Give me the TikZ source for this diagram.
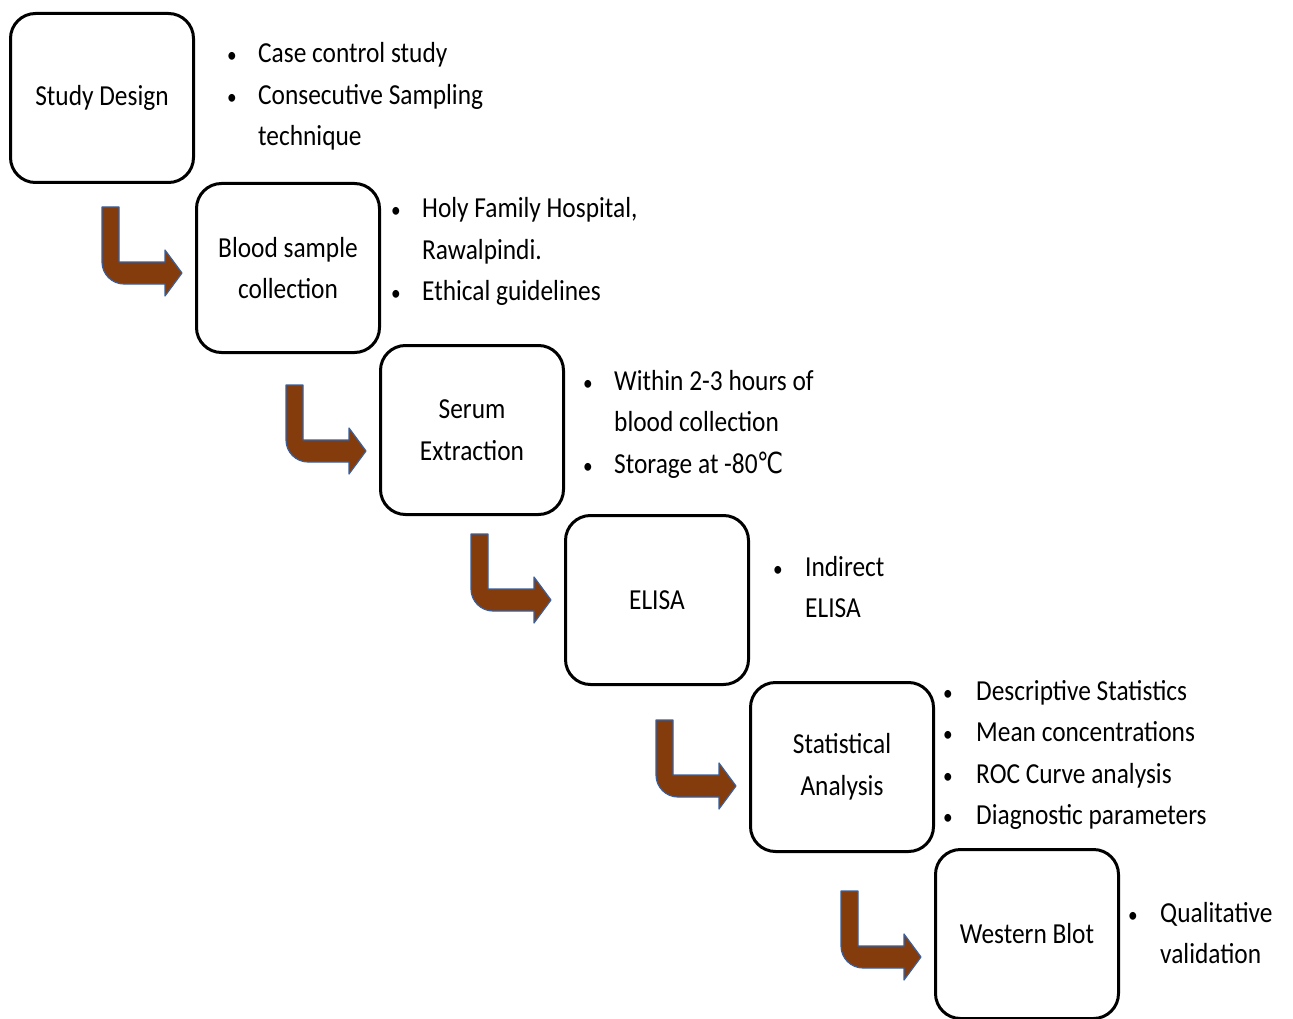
\documentclass[tikz,border=0pt]{standalone}
\usepackage{fontspec}
\setmainfont{Carlito}[FakeStretch=0.875]
\newfontfamily\degreefont{DejaVu Sans}[FakeStretch=0.8]
\usetikzlibrary{calc}

\definecolor{arrowbrown}{RGB}{132,60,12}
\definecolor{arrowline}{RGB}{58,95,154}
\newcommand{\flowsize}{\fontsize{29}{41.5}\selectfont}
\newcommand{\listdot}{{\fontsize{22}{41.5}\selectfont\textbullet}}

\tikzset{
  stepbox/.style={draw, line width=3pt, rounded corners=25pt, minimum width=183pt,
    minimum height=169pt, align=center, inner sep=0pt, font=\flowsize},
  bullets/.style={anchor=base west, inner sep=0pt, font=\flowsize},
  bendarrow/.pic={
    \filldraw[fill=arrowbrown, draw=arrowline, line width=1.2pt, line join=round]
      (-80,-66) -- (-63,-66) -- (-63,-11) -- (-17,-11) -- (-17,-23) -- (0,0)
      -- (-17,23) -- (-17,11) -- (-58,11) arc (90:180:22) -- cycle;
  }
}

\begin{document}
\begin{tikzpicture}[x=1pt, y=-1pt]
              \useasboundingbox (0,0) rectangle (1293,1019);

              \node[stepbox] (design) at (102,98)  {Study Design};
              \node[stepbox] (blood)  at (288,268) {Blood sample\\collection};
              \node[stepbox] (serum)  at (472,430) {Serum\\Extraction};
              \node[stepbox] (elisa)  at (657,600) {ELISA};
              \node[stepbox] (stats)  at (842,767) {Statistical\\Analysis};
              \node[stepbox] (blot)   at (1027,934) {Western Blot};

              \pic at ($(blood.west)+(-13,5)$)  {bendarrow};
              \pic at ($(serum.west)+(-13,21)$) {bendarrow};
              \pic at ($(elisa.west)+(-13,0)$)  {bendarrow};
              \pic at ($(stats.west)+(-13,19)$) {bendarrow};
              \pic at ($(blot.west)+(-13,23)$)  {bendarrow};

              \node[bullets] (designlist) at (227,63) {\begin{tabular}[t]{@{}p{31pt}@{}l@{}}
                \listdot & Case control study\\
                \listdot & Consecutive Sampling\\
                         & technique\end{tabular}};
              \node[bullets] (bloodlist) at (391,218) {\begin{tabular}[t]{@{}p{31pt}@{}l@{}}
                \listdot & Holy Family Hospital,\\
                         & Rawalpindi.\\
                \listdot & Ethical guidelines\end{tabular}};
              \node[bullets] (serumlist) at (583,390) {\begin{tabular}[t]{@{}p{31pt}@{}l@{}}
                \listdot & Within 2-3 hours of\\
                         & blood collection\\
                \listdot & Storage at -80{\degreefont ℃}\end{tabular}};
              \node[bullets] (elisalist) at (773,576) {\begin{tabular}[t]{@{}p{32pt}@{}l@{}}
                \listdot & Indirect\\
                         & ELISA\end{tabular}};
              \node[bullets] (statslist) at (943,700) {\begin{tabular}[t]{@{}p{33pt}@{}l@{}}
                \listdot & Descriptive Statistics\\
                \listdot & Mean concentrations\\
                \listdot & ROC Curve analysis\\
                \listdot & Diagnostic parameters\end{tabular}};
              \node[bullets] (blotlist) at (1128,922) {\begin{tabular}[t]{@{}p{32pt}@{}l@{}}
                \listdot & Qualitative\\
                         & validation\end{tabular}};

          \end{tikzpicture}
\end{document}
